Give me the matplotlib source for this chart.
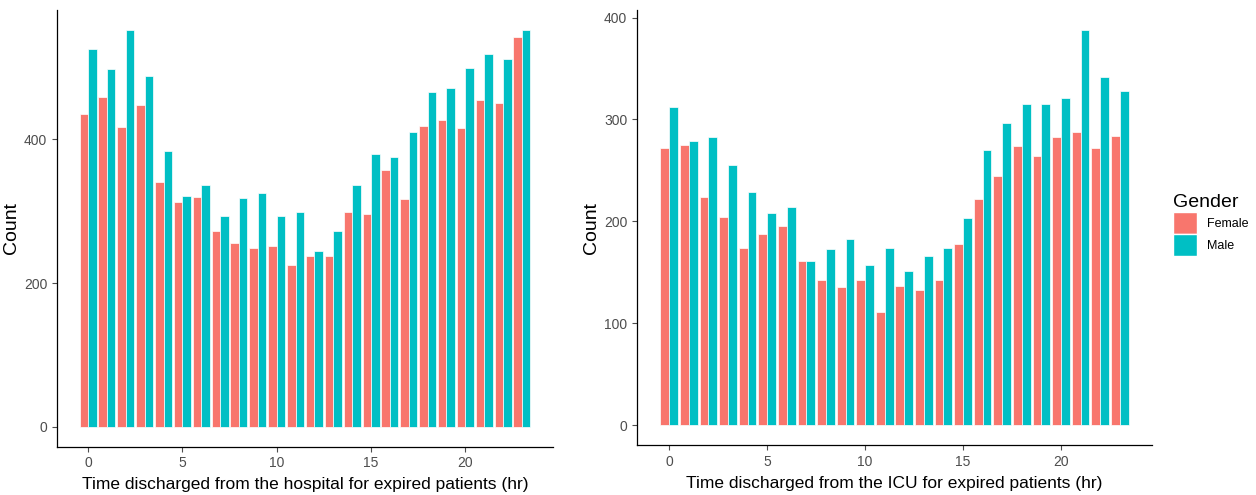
import matplotlib
matplotlib.use("Agg")
import matplotlib.pyplot as plt
import numpy as np
from matplotlib.patches import Patch

hours = list(range(24))

hosp_female = [435, 458, 417, 447, 341, 313, 320, 272, 256, 248, 251, 225, 237, 237,
               299, 296, 357, 317, 418, 426, 415, 454, 450, 542]
hosp_male = [526, 497, 552, 488, 384, 321, 336, 293, 318, 325, 293, 299, 244, 273,
             336, 379, 375, 410, 465, 471, 499, 518, 512, 552]

icu_female = [272, 275, 224, 204, 174, 188, 195, 161, 142, 136, 142, 111, 137, 133,
              142, 178, 222, 245, 274, 264, 283, 288, 272, 284]
icu_male = [312, 279, 283, 255, 229, 208, 214, 161, 173, 183, 157, 174, 151, 166,
            174, 203, 270, 297, 315, 315, 321, 388, 342, 328]

gender_labels = ["Female", "Male"]
colors = ["#F8766D", "#00BFC4"]

xlabels = ["Time discharged from the hospital for expired patients (hr)",
           "Time discharged from the ICU for expired patients (hr)"]

plt.rcParams['font.family'] = ['Liberation Sans', 'DejaVu Sans']

fig = plt.figure(figsize=(12.56, 4.95), dpi=100)
ax1 = fig.add_axes([57/1256, (495-446.7)/495, 496/1256, 436.7/495])
ax2 = fig.add_axes([637/1256, (495-445)/495, 515/1256, 435/495])

def draw(ax, fem, mal, xlabel, yticks, width_px):
    x = np.array(hours)
    w = 0.45
    ax.bar(x - w/2, fem, width=w, color=colors[0], edgecolor="white", linewidth=0.5)
    ax.bar(x + w/2, mal, width=w, color=colors[1], edgecolor="white", linewidth=0.5)
    ymax = max(max(fem), max(mal))
    ax.set_ylim(-0.05*ymax, 1.05*ymax)
    ax.set_xlim(-1.645, 24.645)
    ax.set_xticks([0, 5, 10, 15, 20])
    ax.set_yticks(yticks)
    for s in ["top", "right"]:
        ax.spines[s].set_visible(False)
    for s in ["left", "bottom"]:
        ax.spines[s].set_color("black")
        ax.spines[s].set_linewidth(0.9)
    ax.tick_params(axis="both", colors="#4D4D4D", labelsize=10, length=3.5, width=0.8,
                   labelcolor="#4D4D4D")
    ax.set_xlabel(xlabel, fontsize=12.5, color="black", labelpad=5)
    ax.set_ylabel("Count", fontsize=14, color="black")
    ax.yaxis.set_label_coords(-37/width_px, 0.5)

draw(ax1, hosp_female, hosp_male, xlabels[0], [0, 200, 400], 496)
draw(ax2, icu_female, icu_male, xlabels[1], [0, 100, 200, 300, 400], 515)

handles = [Patch(facecolor=colors[i], edgecolor="white", label=gender_labels[i]) for i in range(2)]
leg = fig.legend(handles=handles, title="Gender", loc="upper left",
                 bbox_to_anchor=(1162/1256, 1 - 183/495), frameon=False,
                 fontsize=9, title_fontsize=14, handlelength=1.9, handleheight=2.3,
                 handletextpad=0.8, labelspacing=0.05, alignment="left")

fig.savefig("out.png", dpi=100)
